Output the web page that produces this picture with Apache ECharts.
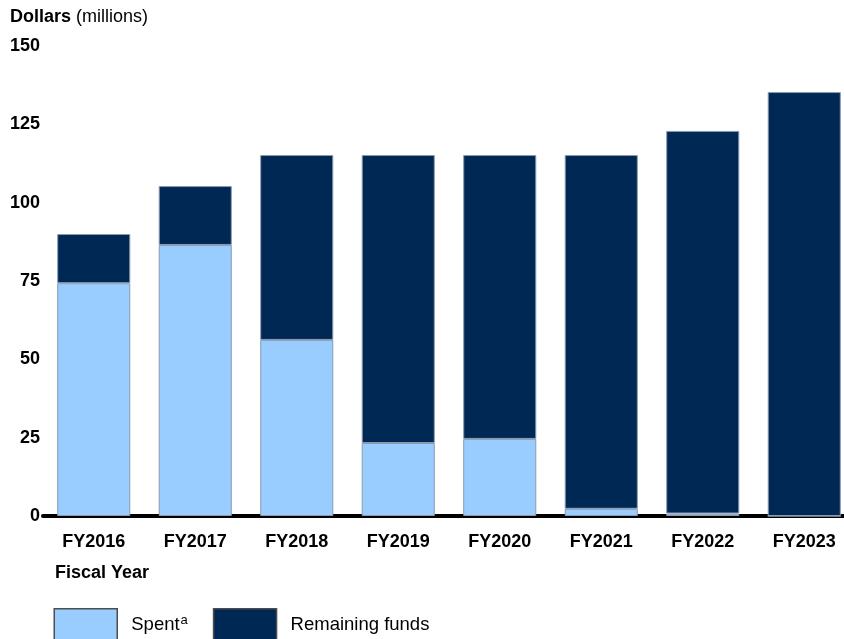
<!DOCTYPE html>
<html><head><meta charset="utf-8">
<script src="https://cdn.jsdelivr.net/npm/echarts@6/dist/echarts.min.js"></script>
<style>html,body{margin:0;padding:0;background:#fff;overflow:hidden}#c{width:860px;height:639px}</style>
</head><body><div id="c"></div>
<script>
var categories = ['FY2016','FY2017','FY2018','FY2019','FY2020','FY2021','FY2022','FY2023'];
var spent = [74.3, 86.5, 56.2, 23.3, 24.6, 2.3, 0.8, 0];
var remaining = [15.7, 18.8, 59.0, 91.9, 90.6, 112.9, 122.1, 135.3];
var yTicks = {min: 0, max: 150, interval: 25};

var FONT = '"Liberation Sans", Arial, sans-serif';
var chart = echarts.init(document.getElementById('c'), null, {renderer: 'canvas'});
chart.setOption({
  animation: false,
  title: [
    {left: 8, top: 6, padding: [2, 2, 2, 2], text: '{b|Dollars} {n|(millions)}',
     textStyle: {rich: {b: {fontFamily: FONT, fontWeight: 'bold', fontSize: 18, color: '#000'},
                        n: {fontFamily: FONT, fontWeight: 'normal', fontSize: 18, color: '#000'}}}},
    {left: 53, top: 562, padding: [2, 2, 2, 2], text: 'Fiscal Year',
     textStyle: {fontFamily: FONT, fontWeight: 'bold', fontSize: 18, color: '#000'}}
  ],
  legend: {
    left: 53.5, top: 608, padding: 0, itemWidth: 63, itemHeight: 32, itemGap: 25,
    icon: 'rect',
    itemStyle: {borderColor: '#4d4d4d', borderWidth: 1.5},
    textStyle: {fontFamily: FONT, fontSize: 18.5, color: '#000', padding: [0, 0, 0, 9],
      rich: {a: {fontFamily: FONT, fontSize: 18.5, color: '#000'},
             s: {fontFamily: FONT, fontSize: 13, color: '#000', padding: [0, 0, 9, 1]}}},
    formatter: function (n) { return n === 'Spent' ? '{a|Spent}{s|a}' : n; },
    data: ['Spent', 'Remaining funds']
  },
  grid: {left: 43, width: 812, top: 46, bottom: 123, containLabel: false},
  xAxis: {
    type: 'category', data: categories,
    axisLine: {lineStyle: {color: '#000', width: 4}},
    axisTick: {show: false},
    axisLabel: {fontFamily: FONT, fontWeight: 'bold', fontSize: 18, color: '#000', margin: 17}
  },
  yAxis: {
    type: 'value', min: yTicks.min, max: yTicks.max, interval: yTicks.interval,
    splitLine: {show: false}, axisLine: {show: false}, axisTick: {show: false},
    axisLabel: {fontFamily: FONT, fontWeight: 'bold', fontSize: 18, color: '#000', margin: 3,
                padding: [5, 0, 0, 0]}
  },
  series: [
    {name: 'Spent', type: 'bar', stack: 't', data: spent, barCategoryGap: '28%',
     itemStyle: {color: '#99CCFF', borderColor: '#8a9bb0', borderWidth: 1}},
    {name: 'Remaining funds', type: 'bar', stack: 't', data: remaining,
     itemStyle: {color: '#002855', borderColor: '#8a9bb0', borderWidth: 1}}
  ]
});
</script></body></html>
